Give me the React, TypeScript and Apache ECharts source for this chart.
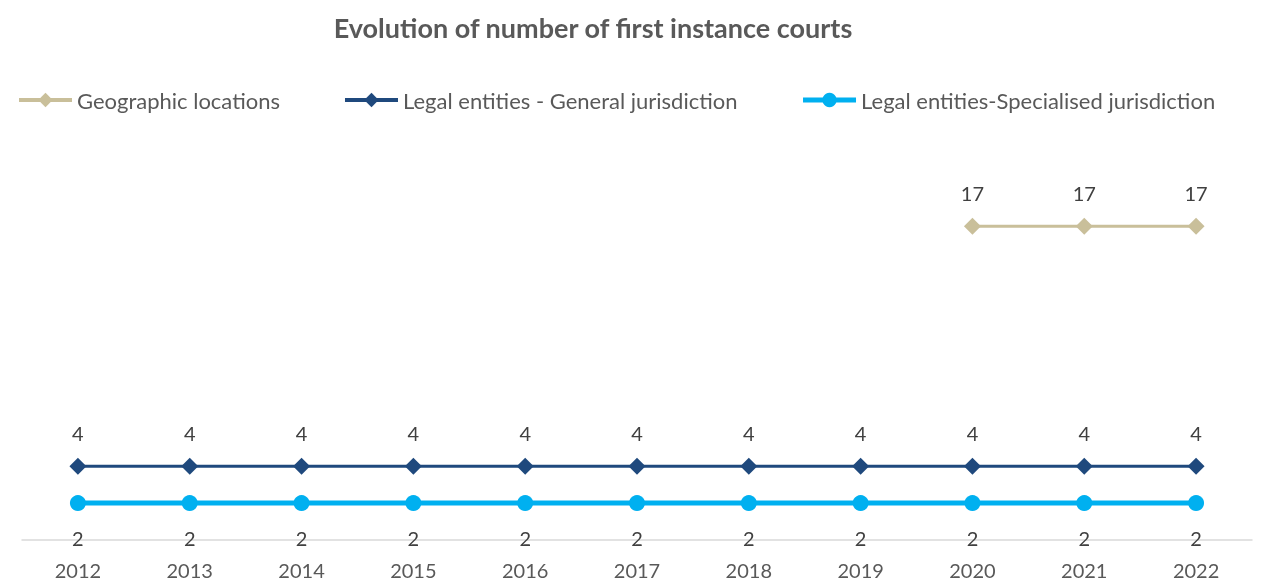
import React, { useEffect, useRef } from "react";
import * as echarts from "echarts";

const years = ["2012", "2013", "2014", "2015", "2016", "2017", "2018", "2019", "2020", "2021", "2022"];
const geographic = [null, null, null, null, null, null, null, null, 17, 17, 17];
const general = [4, 4, 4, 4, 4, 4, 4, 4, 4, 4, 4];
const specialised = [2, 2, 2, 2, 2, 2, 2, 2, 2, 2, 2];

const FONT = "Lato, 'Open Sans', sans-serif";
const TXT = "#595959";

export default function App() {
  const ref = useRef<HTMLDivElement>(null);
  useEffect(() => {
    if (!ref.current) return;
    const chart = echarts.init(ref.current, null, { renderer: "svg" });
    chart.setOption({
      animation: false,
      textStyle: { fontFamily: FONT },
      title: {
        text: "Evolution of number of first instance courts",
        left: 588,
        textAlign: "center",
        top: 9,
        textStyle: { fontFamily: FONT, fontSize: 27, fontWeight: "bold", color: TXT },
      },
      legend: {
        left: 12,
        top: 84,
        itemWidth: 53,
        itemHeight: 18,
        itemGap: 63,
        textStyle: { fontFamily: FONT, fontSize: 22, color: TXT },
        data: [
          { name: "Geographic locations", lineStyle: { width: 4 } },
          { name: "Legal entities - General jurisdiction", lineStyle: { width: 4 } },
          { name: "Legal entities-Specialised jurisdiction", lineStyle: { width: 5 } },
        ],
      },
      grid: { left: 22, right: 16, top: 171, bottom: 41 },
      xAxis: {
        type: "category",
        data: years,
        boundaryGap: true,
        axisLine: { lineStyle: { color: "#D9D9D9", width: 1.5 } },
        axisTick: { show: false },
        axisLabel: { color: TXT, fontSize: 20, fontFamily: FONT, margin: 20 },
      },
      yAxis: {
        type: "value",
        min: 0,
        max: 20,
        show: false,
        splitLine: { show: false },
      },
      series: [
        {
          name: "Geographic locations",
          type: "line",
          data: geographic,
          color: "#C9BF9A",
          symbol: "diamond",
          symbolSize: 17,
          lineStyle: { width: 3, color: "#C9BF9A" },
          itemStyle: { color: "#C9BF9A" },
          label: { show: true, position: "top", distance: 15, fontSize: 20, color: "#404040", fontFamily: FONT },
        },
        {
          name: "Legal entities - General jurisdiction",
          type: "line",
          data: general,
          color: "#1F497D",
          symbol: "diamond",
          symbolSize: 17,
          lineStyle: { width: 3, color: "#1F497D" },
          itemStyle: { color: "#1F497D" },
          label: { show: true, position: "top", distance: 15, fontSize: 20, color: "#404040", fontFamily: FONT },
        },
        {
          name: "Legal entities-Specialised jurisdiction",
          type: "line",
          data: specialised,
          color: "#00B0F0",
          symbol: "circle",
          symbolSize: 16,
          lineStyle: { width: 5, color: "#00B0F0" },
          itemStyle: { color: "#00B0F0" },
          label: { show: true, position: "bottom", distance: 17, fontSize: 20, color: "#404040", fontFamily: FONT },
        },
      ],
    });
    return () => chart.dispose();
  }, []);
  return <div ref={ref} style={{ position: "fixed", left: 0, top: 0, width: 1268, height: 581 }} />;
}
